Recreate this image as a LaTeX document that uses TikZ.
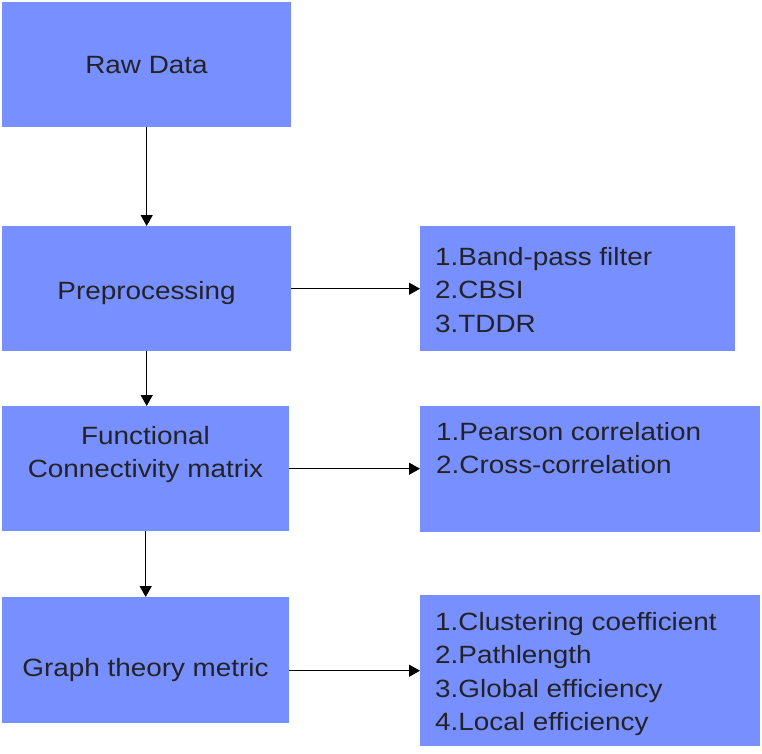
\documentclass[tikz,border=0pt]{standalone}
\usepackage{fontspec}
\usepackage{graphicx}
\setmainfont{Liberation Sans}
\usetikzlibrary{arrows.meta}
\definecolor{boxblue}{RGB}{120,144,255}
\definecolor{txt}{RGB}{34,34,40}
\newcommand\wide[1]{\scalebox{1.115}[1]{#1}}
\begin{document}
\begin{tikzpicture}[x=1pt,y=-1pt,
  box/.style={fill=boxblue,draw=none,rectangle,inner sep=0pt,anchor=north west},
  lbl/.style={inner sep=0pt,text=txt,font=\fontsize{25}{33.5}\selectfont},
  conn/.style={line width=1.4pt,draw=black,-{Triangle[length=11pt,width=12pt]}}]
\useasboundingbox (0,0) rectangle (762,753);
% boxes
\node[box,minimum width=289pt,minimum height=125pt] (raw) at (2,2) {};
\node[box,minimum width=289pt,minimum height=125pt] (pre) at (2,226) {};
\node[box,minimum width=287pt,minimum height=125pt] (fc) at (2,406) {};
\node[box,minimum width=287pt,minimum height=126pt] (gt) at (2,597) {};
\node[box,minimum width=315pt,minimum height=125pt] (r1) at (420,226) {};
\node[box,minimum width=340pt,minimum height=126pt] (r2) at (420,406) {};
\node[box,minimum width=340pt,minimum height=151pt] (r3) at (420,595) {};
% labels
\node[lbl,anchor=base] (traw) at (146.5,73) {\wide{Raw Data}};
\node[lbl,anchor=base] (tpre) at (146.5,299) {\wide{Preprocessing}};
\node[lbl,anchor=base] (tfc) at (145.5,444) {\wide{\begin{tabular}[t]{@{}c@{}}Functional\\Connectivity matrix\end{tabular}}};
\node[lbl,anchor=base] (tgt) at (145.5,676) {\wide{Graph theory metric}};
\node[lbl,anchor=base west] (tr1) at (435,265) {\wide{\begin{tabular}[t]{@{}l@{}}1.Band-pass filter\\2.CBSI\\3.TDDR\end{tabular}}};
\node[lbl,anchor=base west] (tr2) at (436,440) {\wide{\begin{tabular}[t]{@{}l@{}}1.Pearson correlation\\2.Cross-correlation\end{tabular}}};
\node[lbl,anchor=base west] (tr3) at (435,630) {\wide{\begin{tabular}[t]{@{}l@{}}1.Clustering coefficient\\2.Pathlength\\3.Global efficiency\\4.Local efficiency\end{tabular}}};
% connectors
\draw[conn] (raw.south) -- (pre.north);
\draw[conn] (pre.south) -- (pre.south |- fc.north);
\draw[conn] (fc.south) -- (gt.north);
\draw[conn] (pre.east) -- (r1.west);
\draw[conn] (fc.east) -- (fc.east -| r2.west);
\draw[conn] (gt.east |- r3.west) -- (r3.west);
\end{tikzpicture}
\end{document}
